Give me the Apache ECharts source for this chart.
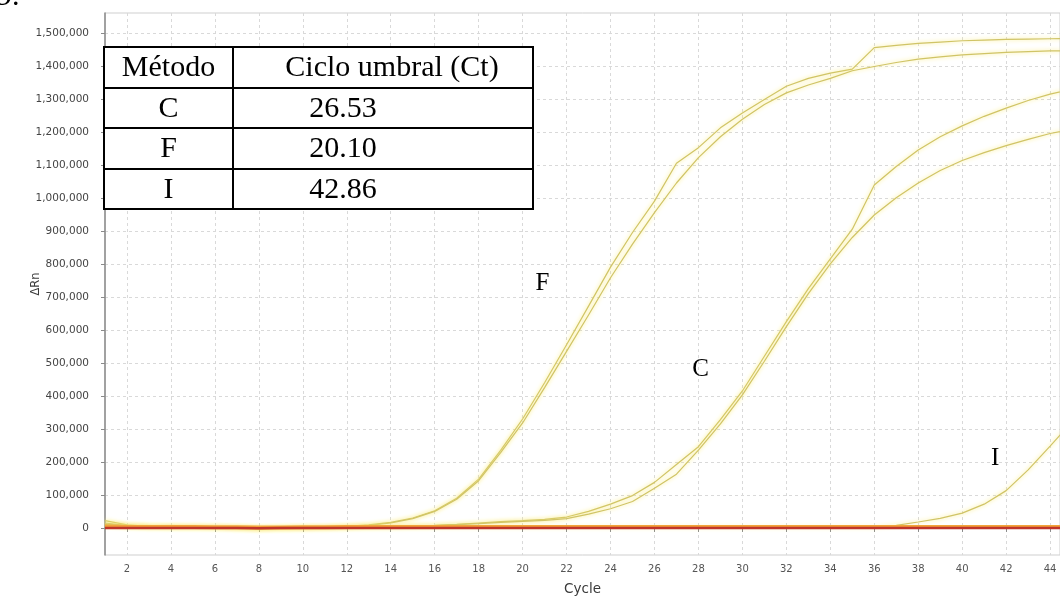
<!DOCTYPE html>
<html>
<head>
<meta charset="utf-8">
<script src="https://cdn.jsdelivr.net/npm/echarts@6/dist/echarts.min.js"></script>
<style>
  html, body { margin: 0; padding: 0; background: #fff; }
  #chart { width: 1060px; height: 596px; }
</style>
</head>
<body>
<div id="chart"></div>
<script>
// Amplification cycles
const cycles = [1, 2, 3, 4, 5, 6, 7, 8, 9, 10, 11, 12, 13, 14, 15, 16, 17, 18, 19, 20,
  21, 22, 23, 24, 25, 26, 27, 28, 29, 30, 31, 32, 33, 34, 35, 36, 37, 38, 39, 40,
  41, 42, 43, 44, 45];

// ΔRn per cycle, method F (two replicates)
const methodF1 = [22000, 9000, 5000, 4000, 4000, 3000, 1000, -2000, 0, 1000, 2000, 5000, 9000, 17000, 30000,
  52000, 90000, 148000, 235000, 330000, 440000, 555000, 672000, 790000, 895000, 990000, 1105000, 1152000, 1212000, 1257000,
  1298000, 1338000, 1362000, 1378000, 1390000, 1455000, 1462000, 1468000, 1472000, 1476000, 1478000, 1480000, 1481000, 1482000, 1483000];
const methodF2 = [12000, 6000, 4000, 3000, 3000, 2000, 0, -3000, -1000, 0, 2000, 4000, 8000, 15000, 28000,
  50000, 87000, 143000, 228000, 318000, 425000, 535000, 645000, 758000, 860000, 955000, 1045000, 1122000, 1185000, 1238000,
  1283000, 1318000, 1342000, 1362000, 1385000, 1398000, 1410000, 1420000, 1427000, 1433000, 1437000, 1441000, 1443000, 1445000, 1446000];

// ΔRn per cycle, method C (two replicates)
const methodC1 = [15000, 7000, 4000, 3000, 2000, 2000, 1000, -1000, 0, 1000, 1000, 2000, 3000, 4000, 6000,
  8000, 11000, 15000, 19000, 22000, 26000, 33000, 50000, 72000, 98000, 138000, 192000, 246000, 328000, 415000,
  520000, 625000, 725000, 815000, 905000, 1039000, 1095000, 1145000, 1185000, 1218000, 1247000, 1272000, 1295000, 1314000, 1330000];
const methodC2 = [10000, 5000, 3000, 2000, 2000, 1000, 0, -2000, -1000, 0, 1000, 2000, 2000, 3000, 5000,
  7000, 10000, 13000, 17000, 20000, 23000, 28000, 42000, 58000, 80000, 120000, 163000, 236000, 315000, 403000,
  505000, 610000, 710000, 800000, 880000, 948000, 1000000, 1045000, 1083000, 1113000, 1137000, 1158000, 1177000, 1195000, 1208000];

// ΔRn per cycle, method I
const methodI = [6000, 4000, 3000, 3000, 2000, 2000, 1000, 0, 0, 1000, 1000, 1000, 2000, 2000, 2000,
  2000, 2000, 2000, 2000, 2000, 2000, 2000, 2000, 2000, 2000, 2000, 2000, 2000, 2000, 2000,
  2000, 2000, 2000, 2000, 2000, 2000, 8000, 18000, 29000, 45000, 72000, 113000, 176000, 248000, 322000];

// No-template controls
const controlA = [4000, 3000, 3000, 3000, 3000, 2000, 2000, 1000, 1000, 2000, 2000, 3000, 3000, 3000, 3000,
  3000, 3000, 3000, 3000, 3000, 3000, 3000, 3000, 3000, 3000, 3000, 3000, 3000, 3000, 3000,
  3000, 3000, 3000, 3000, 3000, 3000, 3000, 3000, 3000, 3000, 3000, 3000, 3000, 3000, 3000];
const controlB = [0, 0, 0, 0, 0, 0, 0, -1000, 0, 0, 0, 0, 0, 0, 0,
  0, 0, 0, 0, 0, 0, 0, 0, 0, 0, 0, 0, 0, 0, 0,
  0, 0, 0, 0, 0, 0, 0, 0, 0, 0, 0, 0, 0, 0, 0];

// Tick labels
const xTicks = [2, 4, 6, 8, 10, 12, 14, 16, 18, 20, 22, 24, 26, 28, 30, 32, 34, 36, 38, 40, 42, 44];
const yTicks = [0, 100000, 200000, 300000, 400000, 500000, 600000, 700000, 800000,
  900000, 1000000, 1100000, 1200000, 1300000, 1400000, 1500000];

// Threshold-cycle table
const tableHeader = ['Método', 'Ciclo umbral (Ct)'];
const tableMethods = ['C', 'F', 'I'];
const tableCt = ['26.53', '20.10', '42.86'];

// Curve tags in data coordinates [cycle, ΔRn]
const curveTags = [
  { text: 'F', at: [20.9, 742000] },
  { text: 'C', at: [28.1, 479000] },
  { text: 'I', at: [41.5, 212000] }
];

const pair = arr => cycles.map((c, i) => [c, arr[i]]);

const chart = echarts.init(document.getElementById('chart'), null, { renderer: 'canvas' });

const ampStyle = {
  color: '#d0c466',
  width: 1.2,
  shadowColor: 'rgba(248, 232, 110, 1)',
  shadowBlur: 4
};

function ampSeries(name, arr) {
  return {
    name, type: 'line', data: pair(arr), showSymbol: false, symbol: 'none',
    lineStyle: ampStyle, silent: true
  };
}

const sans = 'DejaVu Sans';
const serif = 'Liberation Serif';

chart.setOption({
  animation: false,
  backgroundColor: '#ffffff',
  grid: {
    left: 105, top: 13, right: 0, bottom: 41,
    outerBoundsMode: 'none', containLabel: false,
    show: true, borderColor: '#cfcfcf', borderWidth: 1, backgroundColor: 'transparent'
  },
  xAxis: {
    type: 'value', min: 1, max: 44.45,
    name: 'Cycle', nameLocation: 'middle', nameGap: 27, nameMoveOverlap: false,
    nameTextStyle: { fontFamily: sans, fontSize: 13.5, color: '#3a3a3a' },
    axisLine: { show: true, lineStyle: { color: '#8a8a8a', width: 1.5 } },
    axisTick: { show: true, customValues: xTicks, length: 4, lineStyle: { color: '#8a8a8a' } },
    axisLabel: { customValues: xTicks, margin: 9, fontFamily: sans, fontSize: 10, color: '#555' },
    splitLine: { show: true, lineStyle: { color: '#d9d9d9', type: [3, 3], width: 1 } }
  },
  yAxis: {
    type: 'value', min: -82000, max: 1560000,
    name: 'ΔRn', nameLocation: 'middle', nameGap: 63, nameRotate: 90, nameMoveOverlap: false,
    nameTextStyle: { fontFamily: sans, fontSize: 11.5, color: '#3a3a3a' },
    axisLine: { show: true, lineStyle: { color: '#8a8a8a', width: 1.5 } },
    axisTick: { show: true, customValues: yTicks, length: 4, lineStyle: { color: '#8a8a8a' } },
    axisLabel: {
      customValues: yTicks, margin: 16, fontFamily: sans, fontSize: 10.5, color: '#444',
      formatter: v => v.toLocaleString('en-US')
    },
    splitLine: { show: true, lineStyle: { color: '#d9d9d9', type: [3, 3], width: 1 } }
  },
  series: [
    ampSeries('F1', methodF1),
    ampSeries('F2', methodF2),
    ampSeries('C1', methodC1),
    ampSeries('C2', methodC2),
    ampSeries('I', methodI),
    {
      name: 'NTC A', type: 'line', data: pair(controlA), symbol: 'none', silent: true,
      lineStyle: { color: '#f2a33a', width: 4 }
    },
    {
      name: 'NTC B', type: 'line', data: pair(controlB), symbol: 'none', silent: true,
      lineStyle: { color: '#c0352a', width: 2.5 }
    }
  ]
});

// Table and tags drawn as graphic overlays
const tLeft = 104, tTop = 47;
const colW = [129, 300];
const rowH = [41, 40, 41, 40];
const tW = colW[0] + colW[1];
const tH = rowH.reduce((a, b) => a + b, 0);
const graphics = [];

graphics.push({
  type: 'rect', shape: { x: tLeft, y: tTop, width: tW, height: tH },
  style: { fill: '#ffffff', stroke: '#000', lineWidth: 2 }, z: 100
});
graphics.push({
  type: 'line', shape: { x1: tLeft + colW[0], y1: tTop, x2: tLeft + colW[0], y2: tTop + tH },
  style: { stroke: '#000', lineWidth: 2 }, z: 101
});
let yy = tTop;
for (let r = 0; r < rowH.length - 1; r++) {
  yy += rowH[r];
  graphics.push({
    type: 'line', shape: { x1: tLeft, y1: yy, x2: tLeft + tW, y2: yy },
    style: { stroke: '#000', lineWidth: 2 }, z: 101
  });
}
const cellText = (text, x, y) => ({
  type: 'text', x, y, z: 102,
  style: { text, fill: '#000', font: '30px "' + serif + '"', align: 'center', verticalAlign: 'middle' }
});
let rowCenter = tTop + rowH[0] / 2 + 1;
graphics.push(cellText(tableHeader[0], tLeft + colW[0] / 2, rowCenter));
graphics.push(cellText(tableHeader[1], tLeft + colW[0] + colW[1] / 2 + 9, rowCenter));
let rowTop = tTop + rowH[0];
for (let i = 0; i < tableMethods.length; i++) {
  const c = rowTop + rowH[i + 1] / 2 + 1;
  graphics.push(cellText(tableMethods[i], tLeft + colW[0] / 2, c));
  graphics.push(cellText(tableCt[i], tLeft + colW[0] + colW[1] / 2 - 40, c));
  rowTop += rowH[i + 1];
}

curveTags.forEach(t => {
  const p = chart.convertToPixel({ gridIndex: 0 }, t.at);
  graphics.push({
    type: 'text', x: p[0], y: p[1], z: 102,
    style: { text: t.text, fill: '#000', font: '25px "' + serif + '"', align: 'center', verticalAlign: 'middle' }
  });
});

// Panel number at the top-left corner
graphics.push({
  type: 'text', x: -3, y: 12, z: 102,
  style: { text: '9.', fill: '#000', font: '30px "' + serif + '"', align: 'left', verticalAlign: 'bottom' }
});

chart.setOption({ graphic: graphics });
</script>
</body>
</html>
